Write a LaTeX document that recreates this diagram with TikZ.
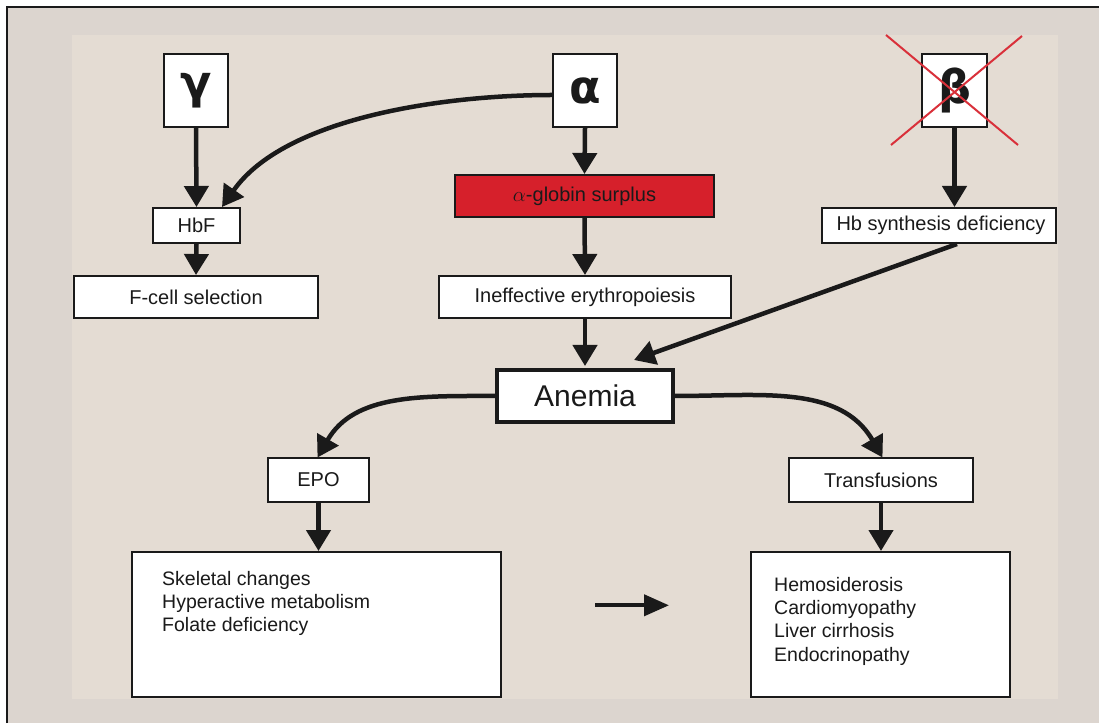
\documentclass[tikz,border=0pt]{standalone}
\usepackage{fontspec}
\setmainfont{Liberation Sans}
\newfontfamily\greekfont{DejaVu Sans}
\usetikzlibrary{arrows.meta,calc}
\definecolor{outerbg}{HTML}{DCD5CF}
\definecolor{innerbg}{HTML}{E4DCD3}
\definecolor{redbox}{HTML}{D6202B}
\definecolor{ink}{HTML}{1A1A1A}
\definecolor{crossred}{HTML}{D9303A}
\begin{document}
\begin{tikzpicture}[x=1pt,y=1pt,
  box/.style={draw=ink, line width=2pt, fill=white, inner sep=0pt, text=ink,
    font=\fontsize{20}{24}\selectfont},
  greekbox/.style={box, font=\greekfont\fontsize{46}{52}\selectfont\bfseries},
  bigbox/.style={draw=ink, line width=2pt, fill=white, inner sep=0pt},
  listtext/.style={inner sep=0pt, align=left, text=ink, anchor=north west,
    font=\fontsize{19.5}{23.3}\selectfont},
  arr/.style={draw=ink, line width=4.5pt, -{Triangle[length=21pt,width=24pt]}},
  crossline/.style={draw=crossred, line width=2pt}
]
% background and frame
\useasboundingbox (0,0) rectangle (1099,723);
\fill[white] (0,0) rectangle (1099,723);
\fill[outerbg] (7,0) rectangle (1099,716);
\draw[ink, line width=2pt] (7,0) -- (7,716) -- (1099,716);
\fill[innerbg] (72,24) rectangle (1058,688);

% gene boxes
\node[greekbox, minimum width=64pt, minimum height=73pt] (gamma) at (196,632.5) {γ};
\node[greekbox, minimum width=64pt, minimum height=73pt] (alpha) at (585,632.5) {α};
\node[greekbox, minimum width=65pt, minimum height=73pt] (beta) at (954.5,632.5) {β};
\coordinate (c1a) at (886,688);
\coordinate (c1b) at (1018,578);
\coordinate (c2a) at (1022,687);
\coordinate (c2b) at (891,578);
\draw[crossline] (c1a) -- (c1b);
\draw[crossline] (c2a) -- (c2b);

% middle boxes
\node[box, minimum width=87pt, minimum height=35pt] (hbf) at (196.5,497.5) {HbF};
\node[box, minimum width=244pt, minimum height=42pt] (fcell) at (196,426) {F-cell selection};
\node[box, fill=redbox, minimum width=259pt, minimum height=42pt] (surplus) at (584.5,527) {$\alpha$-globin surplus};
\node[box, minimum width=292pt, minimum height=42pt] (ineff) at (585,426) {Ineffective erythropoiesis};
\node[box, minimum width=234pt, minimum height=35pt] (hbsyn) at (939,497.5) {\hspace*{4pt}Hb synthesis deficiency};
\node[box, line width=4pt, minimum width=176pt, minimum height=52pt,
  font=\fontsize{30}{34}\selectfont] (anemia) at (585,327) {Anemia};
\node[box, minimum width=101pt, minimum height=43pt] (epo) at (318.5,243) {EPO};
\node[box, minimum width=184pt, minimum height=43pt] (transf) at (881,243) {Transfusions};

% lower boxes
\node[bigbox, minimum width=369pt, minimum height=145pt] (leftbig) at (316.5,98.5) {};
\node[listtext] (lefttext) at (162,152) {Skeletal changes\\Hyperactive metabolism\\Folate deficiency};
\node[bigbox, minimum width=259pt, minimum height=145pt] (rightbig) at (880.5,98.5) {};
\node[listtext] (righttext) at (774,146) {Hemosiderosis\\Cardiomyopathy\\Liver cirrhosis\\Endocrinopathy};

% connectors
\draw[arr] (gamma.south) -- (hbf.north);
\draw[arr] ($(alpha.west)+(0,-4.5)$) to[out=180,in=55,looseness=0.8] ($(hbf.north)+(25.5,0)$);
\draw[arr] (hbf.south) -- (fcell.north);
\draw[arr] (alpha.south) -- (surplus.north);
\draw[arr] (surplus.south) -- (ineff.north);
\draw[arr] (beta.south) -- (hbsyn.north -| beta.south);
\draw[arr] (ineff.south) -- ($(anemia.north)+(0,2)$);
\draw[arr] ($(hbsyn.south)+(18,0)$) -- ($(anemia.north)+(49,8)$);
\draw[arr] (anemia.west) to[out=180,in=60] ($(epo.north)+(-1,0)$);
\draw[arr] (anemia.east) to[out=0,in=120] ($(transf.north)+(1.5,0)$);
\draw[arr] (epo.south) -- (leftbig.north -| epo.south);
\draw[arr] (transf.south) -- (rightbig.north -| transf.south);
\coordinate (fa) at (595,117.7);
\coordinate (fb) at (669,117.7);
\draw[arr, line width=4pt, -{Triangle[length=25pt,width=21pt]}] (fa) -- (fb);
\end{tikzpicture}
\end{document}
